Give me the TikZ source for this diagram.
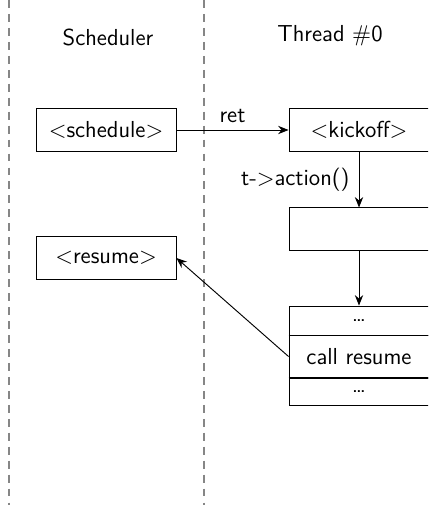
\documentclass[tikz,border=0pt]{standalone}
\usetikzlibrary{arrows.meta}
\begin{document}
\begin{tikzpicture}[x=0.48pt,y=-0.48pt,
  font=\sffamily\fontsize{11.1}{13}\selectfont,
  lane/.style={draw=gray!95, line width=0.9pt, dash pattern=on 3.8pt off 2.9pt},
  box/.style={draw, line width=0.45pt, minimum width=67.2pt, minimum height=20.2pt, inner sep=0pt},
  cell/.style={draw, line width=0.45pt, minimum width=67.2pt, inner sep=0pt},
  conn/.style={-{Stealth[length=5pt,width=4pt]}, line width=0.45pt}]
\clip (0,0) rectangle (428,505);
\useasboundingbox (0,0) rectangle (428,505);
\draw[lane] (9,0) -- (9,505);
\draw[lane] (204,0) -- (204,505);
\node (hs) at (108,37) {Scheduler};
\node (ht) at (330,36) {Thread $\#$0};
\node[box] (sched) at (106,130) {$<$schedule$>$};
\node[box] (kick) at (359,130) {$<$kickoff$>$};
\node[box] (act) at (359,229) {};
\node[box] (res) at (106,258) {$<$resume$>$};
\node[cell, minimum height=13.9pt] (d1) at (359,320.5) {\dots};
\node[cell, minimum height=20.6pt] (call) at (359,356.5) {call resume};
\node[cell, minimum height=13.4pt] (d2) at (359,392) {\dots};
\draw[line width=0.9pt] (d1.south west) -- (d1.south east);
\draw[line width=0.9pt] (call.south west) -- (call.south east);
\draw[conn] (sched.east) -- node[above] {ret} (kick.west);
\draw[conn] (kick.south) -- node[left, xshift=-1pt] {t-$>$action()} (act.north);
\draw[conn] (act.south) -- (d1.north);
\draw[conn] (call.west) -- (res.east);
\end{tikzpicture}
\end{document}
